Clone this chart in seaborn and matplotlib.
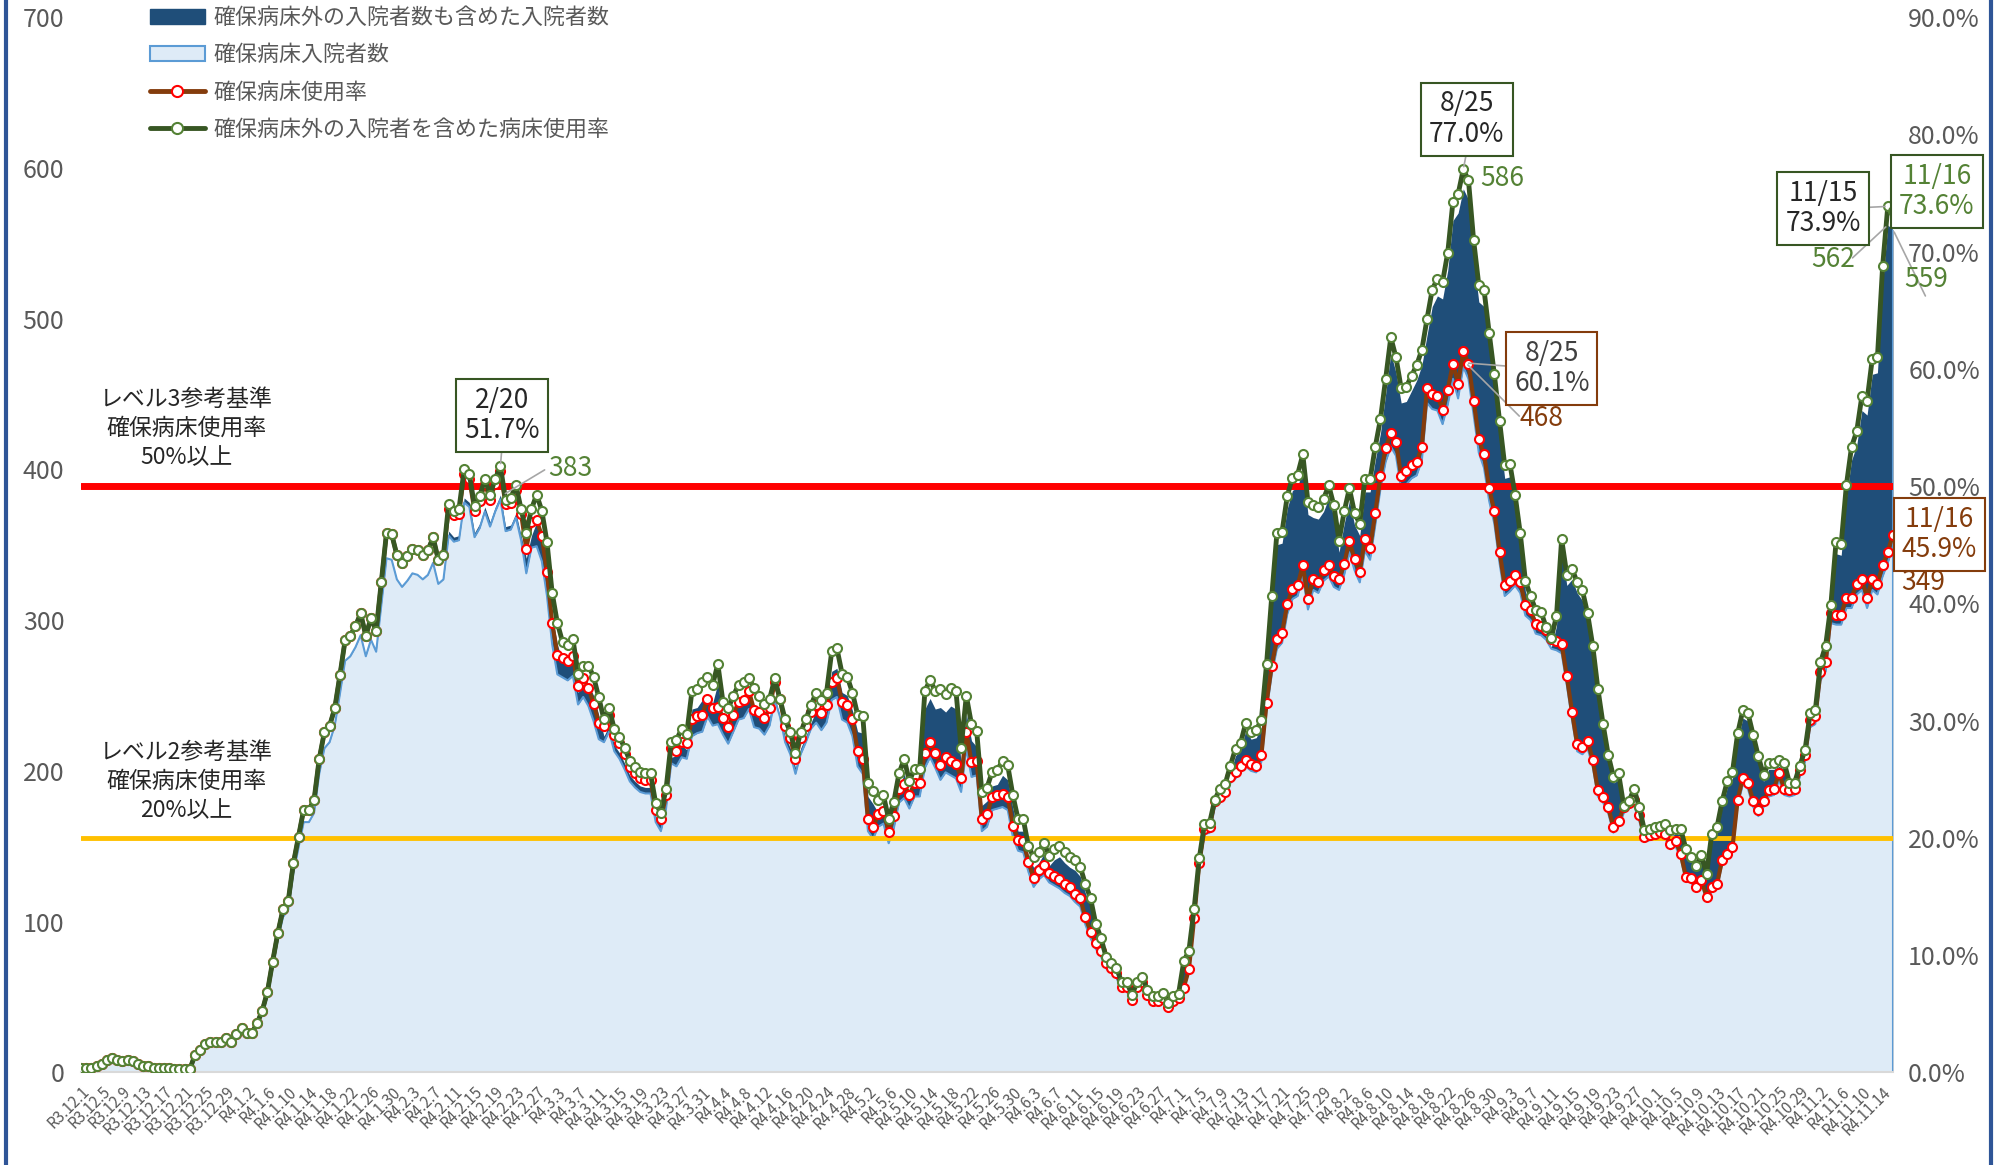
import numpy as np
import pandas as pd
import seaborn as sns
import matplotlib.pyplot as plt
from matplotlib.lines import Line2D
from matplotlib.patches import Patch

# Data (daily, R3.12.1 - R4.11.16)
start_date = "2021-12-01"
end_date = "2022-11-16"

# 確保病床外の入院者数も含めた入院者数
total = [
    3, 3, 3, 4, 5, 8, 9, 8, 7, 8,
    7, 5, 4, 4, 3, 3, 3, 3, 2, 2,
    2, 2, 11, 14, 18, 19, 19, 19, 22, 19,
    24, 28, 25, 25, 31, 39, 51, 70, 88, 103,
    108, 132, 149, 166, 166, 172, 198, 215, 219, 230,
    251, 273, 276, 282, 290, 276, 287, 279, 310, 341,
    340, 327, 322, 326, 331, 330, 327, 330, 338, 324,
    327, 359, 355, 356, 381, 378, 358, 364, 375, 365,
    375, 383, 362, 363, 371, 356, 341, 356, 365, 355,
    335, 303, 284, 272, 270, 274, 252, 257, 257, 250,
    237, 223, 230, 217, 212, 205, 197, 193, 190, 189,
    189, 170, 164, 179, 209, 210, 217, 214, 241, 242,
    247, 250, 245, 258, 234, 230, 238, 245, 247, 249,
    243, 238, 233, 236, 249, 236, 223, 215, 202, 215,
    223, 232, 240, 235, 240, 266, 268, 252, 250, 240,
    226, 225, 183, 178, 172, 175, 160, 171, 189, 198,
    184, 192, 192, 241, 248, 241, 242, 239, 243, 241,
    205, 238, 220, 216, 177, 180, 190, 191, 197, 194,
    175, 160, 160, 143, 136, 139, 145, 137, 141, 143,
    139, 136, 134, 130, 119, 110, 94, 85, 73, 69,
    66, 57, 57, 49, 57, 60, 52, 48, 48, 50,
    44, 48, 51, 72, 79, 106, 139, 161, 162, 177,
    184, 187, 199, 210, 214, 227, 221, 222, 229, 265,
    309, 350, 351, 374, 386, 388, 401, 370, 368, 367,
    372, 381, 368, 345, 364, 379, 363, 356, 385, 385,
    406, 424, 450, 477, 464, 444, 445, 452, 459, 469,
    489, 508, 515, 513, 532, 565, 570, 586, 579, 540,
    511, 508, 480, 453, 423, 394, 395, 375, 350, 319,
    309, 300, 299, 289, 282, 296, 346, 323, 327, 318,
    313, 298, 277, 249, 226, 206, 192, 194, 173, 176,
    184, 172, 157, 158, 159, 160, 161, 157, 158, 158,
    145, 140, 134, 141, 129, 155, 159, 176, 189, 195,
    220, 235, 233, 219, 205, 193, 201, 201, 203, 201,
    188, 188, 199, 209, 233, 235, 266, 277, 303, 344,
    343, 381, 406, 416, 439, 436, 463, 464, 523, 562,
    559,
]

# 確保病床入院者数
secured = [
    3, 3, 3, 4, 5, 8, 9, 8, 7, 8,
    7, 5, 4, 4, 3, 3, 3, 3, 2, 2,
    2, 2, 11, 14, 18, 19, 19, 19, 22, 19,
    24, 28, 25, 25, 31, 39, 51, 70, 88, 103,
    108, 132, 149, 166, 166, 172, 198, 215, 219, 230,
    251, 273, 276, 282, 290, 276, 287, 279, 310, 341,
    340, 327, 322, 326, 331, 330, 327, 330, 338, 324,
    327, 356, 352, 353, 378, 375, 355, 361, 372, 362,
    372, 380, 359, 360, 368, 353, 331, 348, 349, 339,
    316, 284, 264, 262, 260, 263, 244, 249, 243, 233,
    221, 219, 226, 213, 208, 201, 193, 189, 186, 185,
    185, 166, 160, 175, 205, 203, 209, 208, 223, 225,
    226, 236, 230, 231, 224, 218, 226, 234, 235, 241,
    229, 228, 224, 230, 247, 236, 219, 211, 198, 211,
    219, 228, 232, 227, 232, 247, 249, 234, 232, 223,
    203, 198, 160, 155, 163, 165, 152, 162, 179, 182,
    175, 183, 183, 202, 209, 202, 194, 199, 197, 195,
    186, 215, 196, 197, 160, 163, 174, 175, 176, 174,
    156, 147, 146, 133, 123, 128, 131, 126, 124, 122,
    119, 117, 113, 110, 98, 89, 82, 77, 69, 66,
    63, 54, 54, 46, 54, 57, 49, 45, 45, 47,
    41, 45, 48, 55, 67, 100, 136, 158, 159, 176,
    179, 182, 192, 195, 199, 203, 200, 199, 206, 240,
    264, 281, 285, 304, 314, 316, 329, 307, 320, 318,
    326, 329, 322, 320, 330, 345, 333, 325, 346, 340,
    363, 387, 405, 415, 409, 387, 390, 394, 396, 406,
    444, 440, 439, 430, 443, 460, 447, 468, 460, 436,
    411, 401, 379, 364, 338, 316, 319, 323, 318, 303,
    300, 291, 290, 287, 281, 280, 278, 257, 234, 213,
    211, 215, 203, 183, 179, 172, 159, 163, 172, 175,
    177, 167, 153, 154, 155, 156, 155, 148, 150, 142,
    127, 126, 120, 125, 114, 120, 122, 138, 142, 146,
    177, 191, 188, 176, 170, 176, 183, 184, 194, 184,
    183, 184, 196, 206, 229, 231, 260, 266, 298, 297,
    297, 308, 308, 317, 320, 308, 320, 317, 329, 338,
    349,
]

# 確保病床数（期間ごと）
bed_start = ["2021-12-01", "2022-07-01"]
bed_count = [741, 761]

level_rates = [50, 20]
level_texts = ["レベル3参考基準\n確保病床使用率\n50%以上",
               "レベル2参考基準\n確保病床使用率\n20%以上"]

legend_labels = ["確保病床外の入院者数も含めた入院者数", "確保病床入院者数",
                 "確保病床使用率", "確保病床外の入院者を含めた病床使用率"]

# Build frame
df = pd.DataFrame({"date": pd.date_range(start_date, end_date, freq="D"),
                   "total": total, "secured": secured})
df["day"] = np.arange(len(df))
beds = pd.DataFrame({"date": pd.to_datetime(bed_start), "beds": bed_count})
df = pd.merge_asof(df, beds, on="date")
df["rate_total"] = df["total"] / df["beds"] * 100
df["rate_secured"] = df["secured"] / df["beds"] * 100

# Style
navy = "#1F4E79"
light = "#DEEBF7"
edge_blue = "#5B9BD5"
brown = "#843C0C"
dgreen = "#375623"
mgreen = "#548235"
grey = "#595959"

sns.set_style("white")
plt.rcParams["font.family"] = ["Noto Sans CJK JP", "DejaVu Sans"]

fig = plt.figure(figsize=(19.97, 11.65), dpi=100)
ax = fig.add_axes([0.0406, 0.0795, 0.9073, 0.9059])

ax.fill_between(df["day"], df["total"], color=navy, lw=0)
ax.fill_between(df["day"], df["secured"], color=light, lw=0)
ax.plot(df["day"], df["secured"], color=edge_blue, lw=1.5)
ax.vlines(df["day"].iloc[-1], 0, df["total"].iloc[-1], color=edge_blue, lw=1.5)

ax.set_xlim(0, len(df) - 1)
ax.set_ylim(0, 700)
ax.set_yticks(range(0, 701, 100))
ax.tick_params(axis="y", length=0, pad=12, labelsize=18, labelcolor=grey)

tick_days = df["day"][::4]
tick_labels = [f"R{d.year - 2018}.{d.month}.{d.day}" for d in df["date"][::4]]
ax.set_xticks(tick_days)
ax.set_xticklabels(tick_labels, rotation=45, ha="right", rotation_mode="anchor",
                   fontsize=11, color=grey)
ax.tick_params(axis="x", length=5, color="#D9D9D9", pad=3)
for s in ["top", "left", "right"]:
    ax.spines[s].set_visible(False)
ax.spines["bottom"].set_color("#D9D9D9")
ax.spines["bottom"].set_linewidth(1.5)
ax.set_xlabel("")
ax.set_ylabel("")

ax2 = ax.twinx()
ax2.set_ylim(0, 90)
ax2.set_yticks(range(0, 91, 10))
ax2.set_yticklabels([f"{v:.1f}%" for v in range(0, 91, 10)])
ax2.tick_params(axis="y", length=0, pad=11, labelsize=18, labelcolor=grey)
for s in ax2.spines.values():
    s.set_visible(False)

ax2.axhline(level_rates[0], color="#FF0000", lw=5, zorder=1)
ax2.axhline(level_rates[1], color="#FFC000", lw=3.5, zorder=1)

sns.lineplot(data=df, x="day", y="rate_secured", ax=ax2, color=brown, lw=3,
             marker="o", markersize=6.5, markerfacecolor="white",
             markeredgecolor="#FF0000", markeredgewidth=1.5, legend=False, zorder=3)
sns.lineplot(data=df, x="day", y="rate_total", ax=ax2, color=dgreen, lw=3.5,
             marker="o", markersize=6.5, markerfacecolor="white",
             markeredgecolor=mgreen, markeredgewidth=1.5, legend=False, zorder=4)
ax2.set_xlabel("")
ax2.set_ylabel("")

# level reference texts (left units)
ax.text(20.3, 427, level_texts[0], ha="center", va="center", fontsize=16.5,
        color="#262626", linespacing=1.35, zorder=5)
ax.text(20.3, 193, level_texts[1], ha="center", va="center", fontsize=16.5,
        color="#262626", linespacing=1.35, zorder=5)

# annotations
scale = 700 / 90  # left units per percent
lead = dict(arrowstyle="-", color="#A6A6A6", lw=1.2)


def box(x, y, txt, ec, tc):
    ax2.text(x, y, txt, ha="center", va="center", fontsize=19, color=tc,
             linespacing=1.15, zorder=10, clip_on=False,
             bbox=dict(boxstyle="square,pad=0.3", fc="white", ec=ec, lw=1.5))


def num(x, y, txt, c):
    ax2.text(x, y, txt, ha="center", va="center", fontsize=19, color=c,
             zorder=10, clip_on=False)


def leader(i, yv, xt, yt):
    ax2.annotate("", xy=(i, yv), xytext=(xt, yt), arrowprops=lead,
                 annotation_clip=False, zorder=9)


d_feb, d_aug, d_n15, d_n16 = 81, 267, 349, 350

leader(d_feb, df["rate_total"][d_feb], 81.3, 53.3)
box(81.3, 56.0, "2/20\n51.7%", dgreen, "#262626")
leader(d_feb + 0.5, df["total"][d_feb] / scale, 90.0, 51.5)
num(94.6, 51.5, "383", mgreen)

leader(d_aug, df["rate_total"][d_aug], 267.7, 78.6)
box(267.7, 81.3, "8/25\n77.0%", dgreen, "#262626")
num(274.5, 76.2, "586", mgreen)

leader(d_aug + 0.5, df["rate_secured"][d_aug] - 1, 279.3, 60.1)
box(284.1, 60.0, "8/25\n60.1%", brown, "#404040")
leader(d_aug + 0.5, df["rate_secured"][d_aug] - 1, 278.2, 55.8)
num(282.2, 55.8, "468", brown)

leader(d_n15, df["rate_total"][d_n15], 342.0, 73.7)
box(336.5, 73.7, "11/15\n73.9%", dgreen, "#262626")
leader(d_n15, df["total"][d_n15] / scale, 341.8, 69.3)
num(338.4, 69.3, "562", mgreen)

box(358.5, 75.1, "11/16\n73.6%", dgreen, mgreen)
leader(d_n16, df["total"][d_n16] / scale, 356.5, 66.0)
num(356.4, 67.6, "559", mgreen)

leader(d_n16, df["rate_secured"][d_n16] - 2, 356.0, 43.5)
box(359.0, 45.9, "11/16\n45.9%", brown, brown)
num(355.8, 41.8, "349", brown)

# legend
handles = [
    Patch(facecolor=navy, edgecolor=navy),
    Patch(facecolor=light, edgecolor=edge_blue, lw=1.5),
    Line2D([], [], color=brown, lw=3.5, marker="o", ms=8, mfc="white",
           mec="#FF0000", mew=1.5),
    Line2D([], [], color=dgreen, lw=3.5, marker="o", ms=8, mfc="white",
           mec=mgreen, mew=1.5),
]
fig.legend(handles, legend_labels, loc="upper left", bbox_to_anchor=(0.075, 0.994),
           frameon=False, fontsize=15.8, labelcolor=grey, handlelength=2.5,
           handletextpad=0.4, labelspacing=0.7, borderpad=0, borderaxespad=0)

# outer frame
for xf in (0.003, 0.997):
    fig.add_artist(Line2D([xf, xf], [0, 1], transform=fig.transFigure,
                          color="#2F5597", lw=3))

fig.savefig("out.png", dpi=100)
